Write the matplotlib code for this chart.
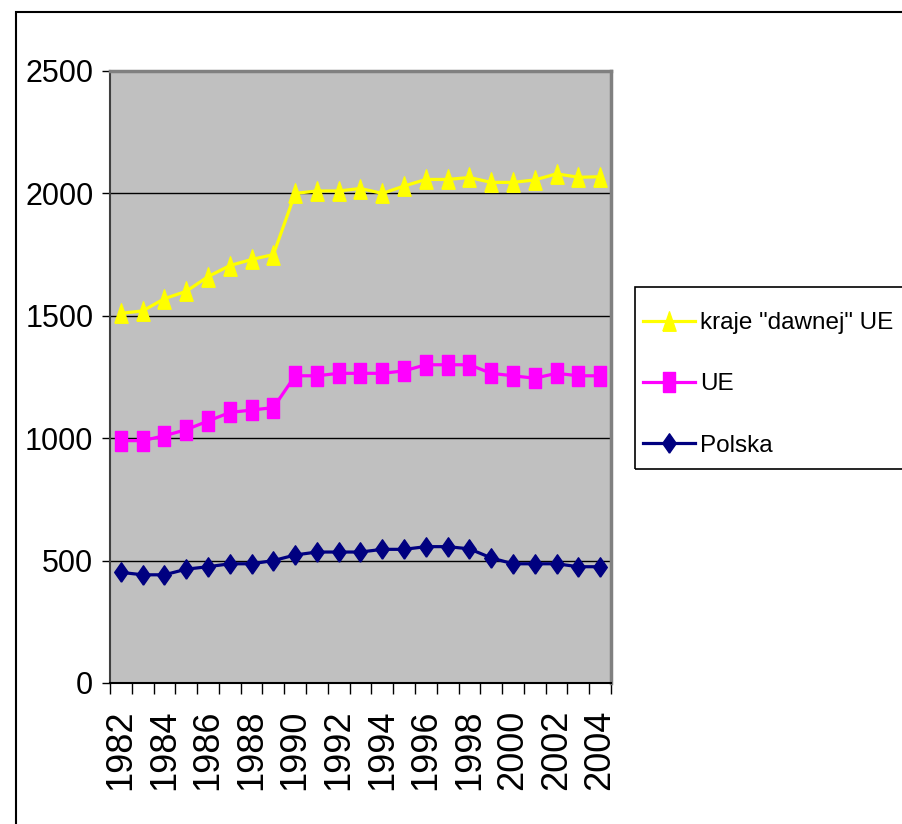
import matplotlib
matplotlib.use("Agg")
import matplotlib.pyplot as plt
from matplotlib.patches import Rectangle
from matplotlib.ticker import FixedLocator

years = list(range(1982, 2005))
kraje_dawnej_ue = [1510, 1520, 1570, 1600, 1660, 1705, 1730, 1750, 2000, 2010, 2010,
                   2020, 2000, 2030, 2057, 2057, 2065, 2045, 2045, 2055, 2080, 2066, 2068]
ue = [990, 990, 1010, 1035, 1070, 1105, 1115, 1125, 1255, 1255, 1265,
      1265, 1265, 1275, 1300, 1300, 1300, 1265, 1255, 1245, 1265, 1255, 1255]
polska = [452, 442, 442, 465, 475, 487, 487, 500, 523, 535, 535,
          535, 546, 546, 557, 557, 548, 511, 487, 487, 487, 475, 475]
series_labels = ['kraje "dawnej" UE', 'UE', 'Polska']
y_ticks = [0, 500, 1000, 1500, 2000, 2500]

W, H = 903, 824
fig = plt.figure(figsize=(W / 100, H / 100), dpi=100)
font = ['Liberation Sans', 'DejaVu Sans']

# outer chart border
fig.patches.append(Rectangle((16 / W, -0.1), 1.2, (H - 12) / H + 0.1,
                             transform=fig.transFigure, fill=False,
                             edgecolor='black', linewidth=1.5, zorder=0))

ax = fig.add_axes([110 / W, (H - 683) / H, (611 - 110) / W, (683 - 71) / H])
ax.set_facecolor('#C0C0C0')

x = list(range(len(years)))
tri = [(-0.34, -0.5), (0.34, -0.5), (0.0, 0.5), (-0.34, -0.5)]
rect = [(-0.33, -0.5), (0.33, -0.5), (0.33, 0.5), (-0.33, 0.5), (-0.33, -0.5)]
diam = [(0.0, -0.5), (0.35, 0.0), (0.0, 0.5), (-0.35, 0.0), (0.0, -0.5)]

l1, = ax.plot(x, kraje_dawnej_ue, color='#FFFF00', lw=2.3, marker=tri, ms=14,
              mec='#FFFF00', mfc='#FFFF00', zorder=3)
l2, = ax.plot(x, ue, color='#FF00FF', lw=2.3, marker=rect, ms=14,
              mec='#FF00FF', mfc='#FF00FF', zorder=3)
l3, = ax.plot(x, polska, color='#000080', lw=2.3, marker=diam, ms=14,
              mec='#000080', mfc='#000080', zorder=3)

ax.set_xlim(-0.5, len(years) - 0.5)
ax.set_ylim(0, 2500)
ax.set_yticks(y_ticks)
ax.set_yticklabels([str(v) for v in y_ticks], family=font, fontsize=22)
ax.yaxis.grid(True, color='black', lw=1)
ax.set_axisbelow(True)
ax.tick_params(axis='y', direction='out', length=6, width=1, pad=6)

ax.set_xticks(x[::2])
ax.set_xticklabels([str(y) for y in years[::2]], rotation=90,
                   family=font, fontsize=26)
ax.tick_params(axis='x', which='major', length=0, pad=19)
ax.xaxis.set_minor_locator(FixedLocator([i - 0.5 for i in range(len(years) + 1)]))
ax.tick_params(axis='x', which='minor', direction='out', length=8, width=1)

for s in ['top', 'right']:
    ax.spines[s].set_color('#808080')
    ax.spines[s].set_linewidth(2.5)
ax.spines['left'].set_color('#404040')
ax.spines['left'].set_linewidth(1.5)
ax.spines['bottom'].set_color('black')
ax.spines['bottom'].set_linewidth(1.5)

# legend box
fig.patches.append(Rectangle((635 / W, (H - 469) / H), 0.5, (469 - 287) / H,
                             transform=fig.transFigure, fill=False,
                             edgecolor='black', linewidth=1.2, zorder=1))
leg = fig.legend([l1, l2, l3], series_labels, loc='upper left',
                 bbox_to_anchor=(643 / W, (H - 312) / H), frameon=False,
                 borderpad=0, borderaxespad=0, handlelength=2.15,
                 handletextpad=0.2, labelspacing=1.62,
                 prop={'family': font, 'size': 17.5})

fig.savefig('out.png', dpi=100)
